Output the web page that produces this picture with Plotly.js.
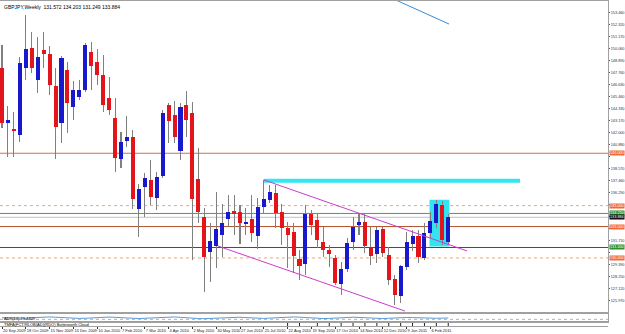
<!DOCTYPE html>
<html><head><meta charset="utf-8">
<script src="https://cdn.plot.ly/plotly-3.0.1.min.js"></script>
<style>html,body{margin:0;padding:0;background:#fff;}#chart{width:625px;height:334px;}</style>
</head><body><div id="chart"></div>
<script>
// Weekly GBPJPY candles, 20 Sep 2009 .. 27 Feb 2011 (index = week number)
const opens  = [148.14,142.89,142.32,141.74,148.14,150.05,146.99,149.86,149.48,146.42,142.89,147.95,144.42,145.37,146.04,149.67,148.71,147.47,145.28,143.37,139.45,141.17,141.55,134.68,136.78,137.45,135.73,137.83,144.61,143.65,140.21,144.61,143.84,137.54,133.91,130.57,131.14,132.19,133.72,134.49,134.39,133.24,133.72,132.10,134.87,135.54,136.20,134.39,132.86,132.48,129.90,129.42,134.20,133.62,131.52,130.76,130.00,127.51,128.95,131.52,133.15,133.43,131.05,130.38,132.77,130.28,128.00,126.37,129.13,131.33,132.10,130.00,132.38,133.34,135.06,131.572];
const highs  = [150.34,144.51,143.94,149.19,153.20,151.58,151.10,151.58,150.24,148.14,149.29,148.71,146.90,146.99,150.53,150.62,149.96,149.39,147.28,145.28,142.03,143.56,142.22,137.06,138.11,139.36,138.21,144.13,144.80,144.99,144.80,145.94,144.89,140.50,134.77,133.34,136.30,135.15,136.01,136.01,135.06,134.77,136.01,135.73,137.45,137.00,136.97,135.15,133.43,133.34,130.76,135.06,134.58,134.29,132.96,131.24,130.28,129.61,131.91,133.91,134.29,134.20,132.96,132.96,132.96,131.05,128.37,129.33,132.48,132.67,132.67,133.34,134.39,135.54,135.44,134.203];
const lows   = [142.41,139.64,139.64,141.07,146.99,147.66,145.75,148.14,145.56,139.45,140.98,141.93,143.18,145.09,145.85,146.04,146.52,143.94,143.65,138.21,138.59,140.60,134.68,132.00,133.91,135.06,134.58,137.64,140.98,140.98,139.36,141.55,129.80,133.34,126.75,127.70,129.04,130.09,132.96,132.19,131.33,132.19,131.52,130.86,134.29,135.25,132.86,131.24,129.04,128.56,127.90,128.37,132.19,130.95,130.09,129.13,127.42,126.46,128.66,130.76,132.19,130.47,129.33,129.52,130.09,127.42,125.51,125.70,128.85,130.66,129.52,129.80,131.91,132.86,131.24,131.249];
const closes = [142.89,143.18,142.13,148.62,149.96,148.14,149.19,149.48,146.52,142.51,149.10,144.80,146.04,146.04,150.34,148.33,147.47,144.61,144.13,139.55,141.07,141.55,135.64,136.59,137.64,135.82,137.73,143.84,143.08,141.55,144.42,143.18,135.64,134.39,130.09,131.62,132.77,133.34,134.39,134.20,133.34,133.43,132.38,134.87,135.64,136.30,134.29,132.86,132.19,130.19,129.24,134.20,133.15,131.72,130.76,130.38,127.61,128.95,131.43,132.96,133.43,131.14,130.19,132.67,130.47,127.90,126.46,129.23,131.52,132.10,130.09,132.38,133.53,135.15,131.72,133.884];

// small oscillator in the lower panel
const oscValues = [32,30,28,27,29,32,35,37,38,36,33,30,28,27,28,31,34,36,37,35,32,29,27,26,28,31,34,37,39,38,35,31,28,26,25,27,30,33,36,37,36,33,30,28,27,29,32,35,37,38,36,33,30,28,26,27,30,33,35,36,34,31,29,27,26,28,31,33,34,33,31,29,28,28,29,30];
// weeks carrying a marker in the bottom strip
const markerWeeks = [48,50,53,55,57,59,61,63,65,67,69,71,73,75];

const dateLabels = ["20 Sep 2009","18 Oct 2009","15 Nov 2009","13 Dec 2009","10 Jan 2010","7 Feb 2010","7 Mar 2010","4 Apr 2010","2 May 2010","30 May 2010","27 Jun 2010","25 Jul 2010","22 Aug 2010","19 Sep 2010","17 Oct 2010","14 Nov 2010","12 Dec 2010","9 Jan 2011","6 Feb 2011"];
const dateLabelWeeks = [0,4,8,12,16,20,24,28,32,36,40,44,48,52,56,60,64,68,72];

const priceTickValues = [153.460,152.314,151.168,150.022,148.876,147.730,146.584,145.438,144.292,143.146,142.000,140.854,139.708,138.562,137.416,136.270,135.124,133.978,132.832,131.686,130.540,129.394,128.248,127.102,125.956,124.810];
const priceTickLabels = ["153.460","152.320","151.170","150.060","148.890","147.760","146.630","145.460","144.330","143.170","142.000","140.880","","138.570","137.460","136.290","","","","131.710","","129.390","128.250","127.120","125.970","124.800"];

const levelPrices = [140.000,135.000,134.250,133.884,133.000,131.000,130.000];
const levelLabels = ["140.000","135.000","134.250","133.884","133.000","131.000","130.000"];
const levelColors = ["#d8703a","#f0a878","#4e9e4e","#b8c4d0","#b4502c","#1f6a1f","#f0a878"];
const levelDash   = ["solid","dot","solid","solid","solid","solid","dot"];
const levelLabelBg = ["#f06a38","#f06a38","#2f8f2f","#101010","#f06a38","#2f8f2f","#f06a38"];

// drawn objects (week index, price)
const channelUpper = [[44,137.45],[78.15,130.67]];
const channelLower = [[36.3,131.14],[67.73,124.93]];
const resistanceBand = [[44,137.38],[87.06,137.38]];
const boxZone = [[71.85,131.1],[75.2,135.55]];
const blueTrend = [[64.0,155.2],[75.13,152.34]];

const FONT = "Liberation Sans, Arial, sans-serif";
const idx = opens.map((_, i) => i);
const upColor = "#1818cc", downColor = "#e3141a";

const wicks = {
  type: "bar", x: idx, base: lows, y: highs.map((h, i) => h - lows[i]),
  width: 0.17, marker: {color: "#808080", line: {width: 0}},
  xaxis: "x", yaxis: "y", hoverinfo: "skip", showlegend: false
};
const bodies = {
  type: "bar", x: idx, base: opens, y: closes.map((c, i) => c - opens[i]),
  width: 0.68,
  marker: {color: closes.map((c, i) => c >= opens[i] ? upColor : downColor), line: {width: 0}},
  xaxis: "x", yaxis: "y", showlegend: false
};
const osc = {
  type: "scatter", mode: "lines", x: idx, y: oscValues,
  line: {color: "#5a9ad8", width: 1}, xaxis: "x3", yaxis: "y2", showlegend: false
};
const marks = {
  type: "scatter", mode: "markers", x: markerWeeks, y: markerWeeks.map(() => 0.5),
  marker: {symbol: "line-ns", size: 3, line: {color: "#222", width: 1}}, xaxis: "x2", yaxis: "y3", showlegend: false
};

const shapes = [];
levelPrices.forEach((p, i) => shapes.push({
  type: "line", xref: "x domain", yref: "y", x0: 0, x1: 1, y0: p, y1: p, layer: "below",
  line: {color: levelColors[i], width: 1, dash: levelDash[i]}
}));
shapes.push({type: "rect", xref: "x", yref: "y", x0: boxZone[0][0], x1: boxZone[1][0], y0: boxZone[0][1], y1: boxZone[1][1],
  fillcolor: "#33e3f0", line: {width: 0}, layer: "below"});
shapes.push({type: "line", xref: "x", yref: "y", x0: resistanceBand[0][0], y0: resistanceBand[0][1], x1: resistanceBand[1][0], y1: resistanceBand[1][1],
  line: {color: "#33e6f2", width: 4}, layer: "below"});
[channelUpper, channelLower].forEach(c => shapes.push({type: "line", xref: "x", yref: "y",
  x0: c[0][0], y0: c[0][1], x1: c[1][0], y1: c[1][1], line: {color: "#cc3ccc", width: 1}, layer: "above"}));
shapes.push({type: "line", xref: "x", yref: "y", x0: blueTrend[0][0], y0: blueTrend[0][1], x1: blueTrend[1][0], y1: blueTrend[1][1],
  line: {color: "#3a8ad6", width: 1}, layer: "above"});
shapes.push({type: "line", xref: "x3 domain", yref: "y2", x0: 0, x1: 1, y0: 20, y1: 20, layer: "below",
  line: {color: "#b0b0b0", width: 1, dash: "dot"}});

const annotations = [];
levelPrices.forEach((p, i) => annotations.push({
  xref: "paper", x: 1, xanchor: "left", xshift: 1, yref: "y", y: p, yanchor: "middle",
  text: levelLabels[i], showarrow: false, bgcolor: levelLabelBg[i], borderpad: 0,
  font: {size: 3.8, color: "#ffffff", family: FONT}
}));
annotations.push({xref: "paper", yref: "paper", x: 0.004, y: 1, xanchor: "left", yanchor: "top", yshift: -1,
  text: "GBPJPY,Weekly  131.572 134.203 131.249 133.884", showarrow: false,
  font: {size: 5, color: "#000", family: FONT}});
annotations.push({xref: "x3 domain", yref: "y2 domain", x: 0.004, y: 0.5, xanchor: "left", yanchor: "middle",
  text: "ADX(14) 19.4409", showarrow: false, font: {size: 4, color: "#000", family: FONT}});
annotations.push({xref: "x2 domain", yref: "y3 domain", x: 0.004, y: 0.5, xanchor: "left", yanchor: "middle",
  text: "TMFA(FCT/RLOB(AD)(RDO) Butterworth Cloud", showarrow: false, font: {size: 4, color: "#000", family: FONT}});

const xr = [-0.336, 101.85];
const frame = {showgrid: false, zeroline: false, showline: true, mirror: true, linecolor: "#a0a0a0", linewidth: 1};
const layout = {
  width: 625, height: 334, margin: {l: 0, r: 17, t: 1, b: 8},
  paper_bgcolor: "#fff", plot_bgcolor: "#fff", barmode: "overlay", bargap: 0,
  font: {family: FONT, size: 3.8, color: "#222"},
  xaxis: Object.assign({domain: [0, 1], anchor: "y", range: xr, showticklabels: false, ticks: ""}, frame),
  yaxis: Object.assign({domain: [0.0431, 1], anchor: "x", side: "right", range: [124.84, 154.54],
    tickvals: priceTickValues, ticktext: priceTickLabels, ticks: "outside", ticklen: 1, tickcolor: "#555",
    tickfont: {size: 3.8, color: "#333", family: FONT}}, frame),
  xaxis3: Object.assign({domain: [0, 1], anchor: "y2", range: xr, showticklabels: false, ticks: ""}, frame),
  yaxis2: Object.assign({domain: [0.0123, 0.0369], anchor: "x3", side: "right", range: [0, 60],
    showticklabels: false, ticks: ""}, frame),
  xaxis2: Object.assign({domain: [0, 1], anchor: "y3", range: xr, tickangle: 0,
    tickvals: dateLabelWeeks, ticktext: dateLabels, ticks: "outside", ticklen: 2, tickcolor: "#333",
    ticklabelposition: "outside right", tickfont: {size: 4, color: "#222", family: FONT}}, frame),
  yaxis3: Object.assign({domain: [0, 0.0123], anchor: "x2", side: "right", range: [0, 1],
    showticklabels: false, ticks: ""}, frame, {showline: false, mirror: false}),
  shapes: shapes, annotations: annotations, showlegend: false
};
Plotly.newPlot("chart", [wicks, bodies, osc, marks], layout, {staticPlot: true, displayModeBar: false});
</script></body></html>
